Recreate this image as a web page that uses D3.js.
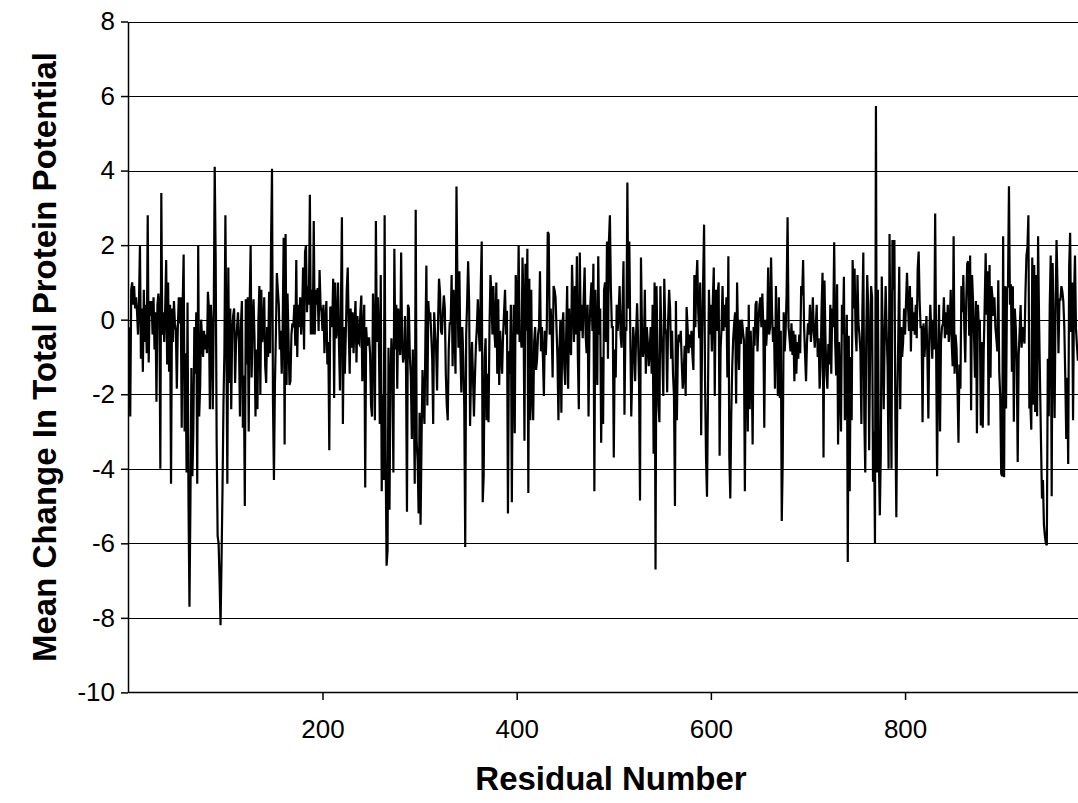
<!DOCTYPE html>
<html lang="en">
  <head>
    <meta charset="utf-8">
    <title>Mean Change In Total Protein Potential</title>
    <style>
      body { margin: 0; background: #fff; }
      svg { display: block; }
    </style>
  </head>
  <body>
    <svg width="1078" height="803" font-family="'Liberation Sans', Arial, sans-serif"></svg>
    <script src="https://cdnjs.cloudflare.com/ajax/libs/d3/7.8.5/d3.min.js"></script>
    <script>

    // mean change per residue in blocks
    // residues 1-123
    var res001 = [-0.2, -2.6, 0.8, 1.0, 0.4, 0.9, 0.3, 0.6, 0.2, -0.4,
      0.5, 2.0, -1.05, 0.3, -1.4, 0.8, -0.6, 0.4, -0.9, 2.8,
      -1.15, 0.5, 0.1, 0.5, -0.4, 0.6, -0.8, 0.2, -2.2, 0.4,
      0.7, 0.3, -4.0, 3.4, -0.4, 0.2, -0.6, 0.3, 1.6, -1.2,
      1.0, -1.4, 0.4, -4.4, 0.3, -0.6, 0.5, -0.1, -0.3, -1.85,
      -0.2, 0.6, -0.1, 0.6, -2.9, 0.4, 1.75, -3.0, -0.9, -4.1,
      0.46, -4.9, -7.7, -4.85, -1.3, -4.2, -3.0, -0.2, -1.45, 0.2,
      -4.4, 2.0, -2.6, -1.8, 0.0, -0.5, -1.0, -0.3, -0.8, -0.4,
      -0.9, 0.75, 0.3, -2.4, 0.4, -0.2, -2.4, 0.2, 4.1, 1.6,
      -3.3, -5.8, -6.0, -7.0, -8.2, -6.5, -4.6, -2.3, -0.8, 2.8,
      -0.5, -4.4, 1.4, -1.7, 0.3, -2.4, -0.3, 0.1, 0.3, -1.7,
      -0.6, -0.2, 0.2, -0.6, -2.6, -0.1, 0.5, -2.9, -1.5, -5.0,
      0.55, -1.2, 0.6];

    // residues 124-247
    var res124 = [-3.0, 0.4, 2.0, -1.55, -0.2, 0.55, -0.5, -2.6, -0.8, -2.4,
      0.0, 0.9, -2.0, 0.8, -0.6, -0.3, 0.6, -1.25, -1.7, -0.2,
      -1.0, 0.75, -0.9, 2.0, 4.05, -2.2, -4.3, -1.75, -0.4, 1.25,
      0.8, 0.4, -0.8, -0.3, -1.45, -0.2, 2.2, -3.35, 2.3, -1.75,
      0.7, -0.5, -1.75, -1.65, -0.4, -0.1, -0.2, 0.4, -0.7, 1.6,
      -1.0, 0.4, -0.2, 0.6, -0.4, 0.1, 1.4, -0.8, 1.8, 2.0,
      0.2, 0.9, 0.4, 3.35, -0.4, 0.8, -0.4, 2.65, -0.4, 0.8,
      0.4, 0.85, -0.3, 1.33, 0.4, 0.2, -0.3, 0.4, -0.9, -0.1,
      0.5, -1.2, -0.6, -3.5, 0.35, 0.3, -0.2, 1.1, -2.1, 1.0,
      -0.5, -0.3, 1.0, -0.7, -1.9, 0.4, 2.75, -2.8, -0.2, -1.45,
      -0.4, 0.8, 1.4, -0.2, -1.45, 0.3, -0.75, 0.2, -0.9, -0.1,
      0.5, -1.15, 0.1, -0.6, -0.65, 0.2, 0.65, -1.65, -0.3, 0.4,
      -4.5, -0.2, -0.7, -0.5];

    // residues 248-370
    var res248 = [-0.5, -0.9, -2.3, -2.6, 0.7, -0.3, -2.7, 2.65, -0.6, 0.6,
      -0.4, -2.8, 1.2, -4.6, -2.0, -4.3, 2.8, -3.5, -6.6, -6.2,
      -0.75, -5.1, -1.65, -0.5, -1.25, -4.1, 1.9, -0.8, 0.4, -1.85,
      0.3, -0.3, -0.95, 1.8, -0.6, -1.15, -0.95, 0.1, -1.2, -5.15,
      0.4, 0.3, -1.0, -1.55, -3.2, -0.8, -2.05, -4.4, 2.95, -3.3,
      -3.8, -5.2, -2.5, -5.5, -3.3, -1.35, -2.2, -2.8, -0.5, 1.45,
      -2.3, 0.5, 0.0, 0.2, -0.4, -1.05, -2.8, 0.2, -0.4, -0.8,
      -1.9, -0.1, 1.1, 0.75, -0.3, -0.4, 0.2, 0.65, 0.3, -1.45,
      -2.3, -2.7, -0.8, -0.1, -0.1, 1.2, -1.25, 0.8, -0.4, -1.45,
      3.57, 0.9, -0.75, 1.3, -0.8, -1.95, -0.2, -1.0, -2.3, -6.1,
      -0.4, 0.5, 1.57, 0.5, -2.85, -1.45, -0.6, -1.55, -2.6, -1.55,
      -0.7, -0.2, 0.55, -0.3, -0.85, 0.9, 2.1, -4.9, -4.2, -1.0,
      -0.5, -2.7, -1.45];

    // residues 371-494
    var res371 = [-2.75, -0.2, 1.2, 0.7, -0.4, 0.9, -0.3, -0.75, 1.0, -1.45,
      0.55, -1.75, -0.3, -0.9, -1.45, -0.4, 0.2, 0.8, -0.4, 0.24,
      -5.2, -0.85, -1.45, 0.4, -4.9, -1.0, 0.4, -3.05, 1.2, 0.7,
      -0.4, 2.0, -0.6, -0.4, -0.75, 1.67, 0.4, -3.25, 1.5, -0.3,
      1.9, -4.65, 1.1, -2.7, 0.8, -2.05, -2.7, -0.6, -0.2, -1.35,
      -1.05, -0.4, -0.2, 1.3, -0.85, -0.2, -1.0, -2.05, -0.3, -0.95,
      -0.2, 2.35, 2.3, -0.4, 0.3, -0.2, -1.55, 0.9, 0.8, 0.6,
      -0.2, -1.05, -2.7, -0.8, 0.0, -2.5, -0.2, 0.2, -1.25, -1.75,
      -0.4, 0.9, -1.85, 0.3, -0.6, -0.95, 1.47, 0.4, -0.6, 0.9,
      -0.4, 1.7, -1.0, -2.4, 1.8, -0.3, 0.4, -0.5, 0.6, 1.4,
      -0.4, -0.9, 0.4, -2.6, -0.2, 0.5, 1.0, -0.3, 1.5, -4.6,
      0.8, -0.5, -1.75, 1.7, -0.4, 0.3, -3.3, -1.0, -2.8, 0.8,
      1.0, -0.6, 2.1, -1.05];

    // residues 495-617
    var res495 = [2.1, 2.8, 0.85, -0.2, -0.2, -3.7, -0.8, -1.55, 0.4, -0.3,
      0.2, 0.9, -0.4, -0.75, 0.3, 1.57, -2.55, -0.2, -0.3, 3.68,
      0.3, 2.1, -0.4, -2.6, -1.45, -0.2, -0.6, -1.65, -0.4, 0.44,
      -0.5, -1.65, -4.85, 1.67, -0.2, -1.0, -0.75, 0.8, -1.45, -0.2,
      -0.6, -1.25, -0.85, -0.2, -1.45, 0.4, -3.6, 1.0, -6.7, 0.9,
      -0.8, -2.3, -2.75, 0.9, -0.4, -0.95, -2.05, 1.1, -0.2, -0.4,
      -1.95, 0.0, 0.8, 0.3, -1.05, -0.3, -1.45, -2.05, -5.0, 0.5,
      -2.7, -0.8, -0.4, -0.6, -0.3, -1.15, -1.85, -1.45, -0.7, -2.05,
      0.34, -0.2, -0.9, -0.4, -0.75, -0.3, -0.95, -1.35, 1.2, -0.2,
      1.0, 1.6, 0.2, -0.5, 1.0, -3.1, -0.4, 1.0, 2.55, -1.65,
      -3.7, -4.75, -2.05, 0.8, -0.4, 0.4, -0.85, 0.5, 1.4, -2.05,
      0.8, -0.3, 0.7, 1.0, -3.65, -0.8, -0.2, 0.9, -0.3, 0.4,
      -0.2, 0.6, -1.55];

    // residues 618-741
    var res618 = [1.7, -3.7, -4.8, -2.55, -1.25, -0.5, -0.1, 0.2, -2.25, 1.0,
      -0.5, -1.35, 0.0, -0.65, 0.0, -0.3, -0.55, -4.6, -0.85, -0.2,
      -3.0, 0.4, -2.4, -0.3, -1.2, -3.35, -0.2, -0.7, 0.4, 0.5,
      -0.85, -0.1, 0.4, 0.6, -0.2, 0.7, -0.2, -2.9, 0.0, -0.7,
      -0.2, 1.4, -0.4, -0.2, 1.67, 0.2, -0.6, -0.2, -1.85, 0.9,
      -0.5, -2.05, 0.6, -2.1, -0.3, -5.4, -3.8, 0.2, -0.85, -0.3,
      0.7, 2.75, -0.2, -0.5, -0.85, -0.1, -0.95, -0.3, -1.65, -0.4,
      -1.45, -0.6, -1.05, -0.4, -0.9, 0.9, 0.65, 1.6, -0.2, -0.95,
      -1.65, -0.6, -0.1, -0.4, 0.4, -0.6, -0.2, 0.6, -0.3, -0.75,
      -0.2, 0.4, -1.0, -0.5, -1.85, -1.25, 0.3, 1.26, -3.7, 1.05,
      -0.5, -1.45, -1.85, -0.65, -1.2, 0.4, -1.45, 0.3, -0.2, 2.08,
      -0.6, -1.5, 0.95, -3.35, -0.6, -1.8, -3.0, 0.4, -0.4, 1.15,
      -2.7, -1.65, 0.13, -6.5];

    // residues 742-864
    var res742 = [-0.43, -4.6, -1.0, -2.7, 1.6, 0.3, 1.37, -0.3, -0.85, 1.2,
      -0.1, -0.4, -0.85, -2.8, 0.2, 1.8, -2.6, -4.1, -0.5, 1.2,
      0.4, -3.5, -0.8, 0.9, 0.6, -4.35, -3.0, -6.0, 5.73, -4.1,
      0.8, -3.7, -5.25, -3.6, 1.16, -0.5, -2.4, -0.4, 0.9, -0.3,
      -1.25, -4.0, 2.3, -1.05, -4.0, 2.14, 0.8, 2.14, -2.7, -5.3,
      -2.05, -0.5, 1.42, -2.4, -0.2, -1.0, -0.6, 0.3, -0.4, 0.5,
      1.26, 0.4, -0.3, 0.9, -0.85, 0.6, -0.3, 0.2, -0.4, 0.4,
      -0.5, 1.37, 1.83, 0.5, -0.2, -0.2, -2.75, -0.1, -1.0, -0.5,
      0.1, -1.0, -2.65, -0.4, 0.4, -0.3, -1.05, 0.0, -0.8, 2.85,
      -0.85, -4.2, -1.0, 0.4, -3.0, -0.6, -0.2, -0.1, 0.6, -0.5,
      0.2, -0.4, 0.4, -0.6, -0.2, 0.8, -0.6, -1.25, 2.24, -1.45,
      -0.4, -0.75, -1.85, -3.3, -1.2, -1.85, 0.9, 0.2, 1.2, -0.2,
      -1.15, 0.5, 1.5];

    // residues 865-978
    var res865 = [1.57, -0.43, 1.72, -2.43, 1.2, 0.5, -0.43, -1.56, 0.5, -3.05,
      0.4, -0.2, 0.0, -2.84, -0.6, -2.9, -0.85, 0.4, 1.78, 0.13,
      1.3, -2.84, 1.47, -1.56, 0.9, 0.6, 0.1, 0.6, -0.2, -0.5,
      -0.85, 1.06, -1.4, -2.07, -4.13, -4.2, 2.24, -4.23, 0.9, -2.38,
      0.85, 0.9, 3.58, 0.4, 0.95, -1.4, 0.9, -2.74, 0.3, -0.2,
      -1.15, -3.82, -0.95, -0.3, 0.39, -0.75, -0.2, -0.43, -0.64, 0.75,
      1.72, 1.93, 2.8, -2.38, -2.28, -2.95, 1.67, -2.28, 1.47, -2.48,
      1.2, -2.59, 2.24, 0.0, -1.68, -3.3, -4.8, -4.3, -5.5, -5.8,
      -6.0, -6.05, -1.05, -2.59, 0.39, 1.72, -4.74, 1.52, -0.5, -2.64,
      0.39, 2.14, 0.9, -0.9, 0.54, 0.54, 0.9, 0.75, 0.49, -0.2,
      -1.56, -3.2, -1.56, -3.87, 1.42, 2.33, -0.33, 1.0, -2.7, 0.6,
      1.72, -0.23, -0.7, -1.1];

    var yTicks = [-10, -8, -6, -4, -2, 0, 2, 4, 6, 8];
    var xTicks = [200, 400, 600, 800];

    var values = res001.concat(res124, res248, res371, res495, res618, res742, res865);

    var svg = d3.select("svg"),
        plotLeft = 128.3,
        plotRight = 1078,
        plotTop = 21.5,
        plotBottom = 692.4;

    var x = d3.scaleLinear().domain([0, 978.1]).range([plotLeft, plotRight]);
    var y = d3.scaleLinear().domain([-10, 8]).range([plotBottom, plotTop]);

    // horizontal gridlines
    svg.append("g")
      .selectAll("line")
      .data(yTicks.filter(function(d) { return d > -10; }))
      .enter().append("line")
        .attr("x1", plotLeft)
        .attr("x2", plotRight)
        .attr("y1", function(d) { return Math.round(y(d)) + 0.5; })
        .attr("y2", function(d) { return Math.round(y(d)) + 0.5; })
        .attr("stroke", "#000")
        .attr("stroke-width", 1);

    // the series
    var line = d3.line()
        .x(function(d, i) { return x(i + 1); })
        .y(function(d) { return y(d); });

    svg.append("path")
        .datum(values)
        .attr("fill", "none")
        .attr("stroke", "#000")
        .attr("stroke-width", 2.2)
        .attr("stroke-linejoin", "miter")
        .attr("d", line);

    // axes, plain hyphen for negatives like the original
    var plain = function(d) { return String(d); };

    var yAxis = svg.append("g")
        .attr("transform", "translate(" + Math.round(plotLeft) + ",0)")
        .call(d3.axisLeft(y).tickValues(yTicks).tickFormat(plain).tickSize(7).tickSizeOuter(0).tickPadding(6));

    var xAxis = svg.append("g")
        .attr("transform", "translate(0," + Math.round(plotBottom) + ")")
        .call(d3.axisBottom(x).tickValues(xTicks).tickFormat(plain).tickSize(8).tickSizeOuter(0).tickPadding(20));

    xAxis.select(".domain").attr("d", "M" + plotLeft + ",0.5H" + plotRight);

    [xAxis, yAxis].forEach(function(g) {
      g.selectAll("path, line").attr("stroke", "#000").attr("stroke-width", 1.5);
      g.selectAll("text")
        .attr("fill", "#000")
        .attr("font-size", 26)
        .attr("font-family", "'Liberation Sans', Arial, sans-serif");
    });

    // titles
    svg.append("text")
        .attr("x", 611)
        .attr("y", 790)
        .attr("text-anchor", "middle")
        .attr("font-size", 33)
        .attr("font-weight", "bold")
        .text("Residual Number");

    svg.append("text")
        .attr("transform", "translate(56," + 357 + ") rotate(-90)")
        .attr("text-anchor", "middle")
        .attr("font-size", 33)
        .attr("font-weight", "bold")
        .text("Mean Change In Total Protein Potential");

    </script>
  </body>
</html>
